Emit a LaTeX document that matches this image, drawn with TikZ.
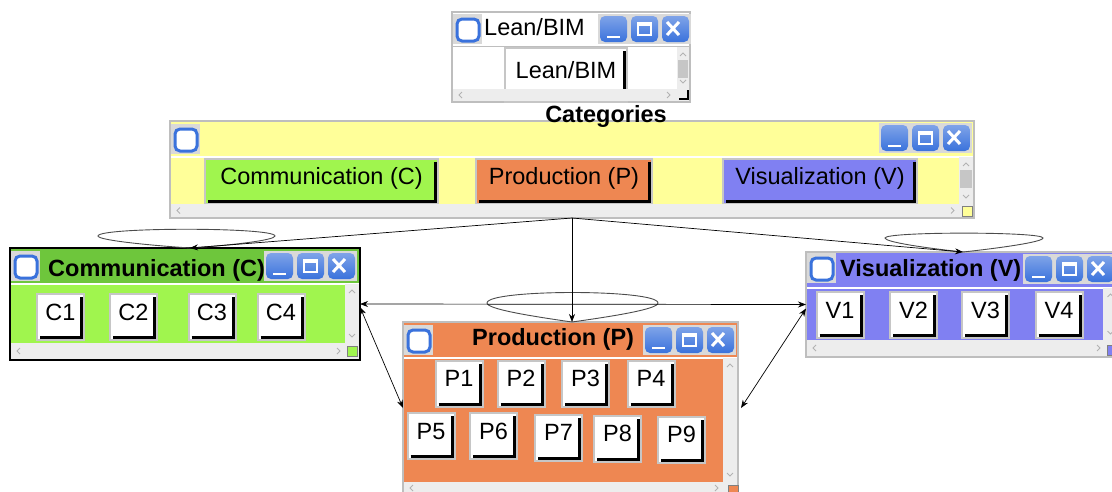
\documentclass[tikz,border=0pt]{standalone}
\usepackage{fontspec}
\setmainfont{Liberation Sans}
\usetikzlibrary{positioning,arrows.meta}

\definecolor{catyellow}{HTML}{FFFF99}
\definecolor{commgreen}{HTML}{A0F54E}
\definecolor{commbar}{HTML}{6EC63C}
\definecolor{prodorange}{HTML}{EE8752}
\definecolor{vizblue}{HTML}{8080F2}
\definecolor{ctrlblue}{HTML}{3A72DC}
\definecolor{framegray}{HTML}{BEBEBE}
\definecolor{sbgray}{HTML}{EDEDED}

\newcommand\lbl{\fontsize{23.5}{26}\selectfont}

\tikzset{
  frm/.style={rectangle, draw=framegray, line width=1.5pt, anchor=north west, inner sep=0pt, outer sep=0pt},
  item/.style={rectangle, draw=gray!45, line width=2pt, fill=white, minimum width=47pt, minimum height=46pt,
    inner sep=0pt, font=\lbl, text height=17pt, text depth=11pt,
    path picture={\draw[black, line width=3pt]
      ([xshift=3pt,yshift=2.5pt]path picture bounding box.south west) --
      ([xshift=-2.5pt,yshift=2.5pt]path picture bounding box.south east) --
      ([xshift=-2.5pt,yshift=-3pt]path picture bounding box.north east);}},
  catbtn/.style={item, fill=#1, minimum height=45pt},
  ttl/.style={font=\lbl\bfseries, inner sep=0pt, anchor=base west},
  con/.style={line width=0.7pt},
  loopline/.style={draw=gray!60!black, line width=0.9pt},
  winctrls/.pic={
    \foreach \k in {0,1,2}{
      \fill[gray!30] (\k*31,0) rectangle ++(31,30);
      \shade[top color=ctrlblue!65!white, bottom color=ctrlblue, rounded corners=5pt] (\k*31+2,2) rectangle ++(27,26);
    }
    \draw[white, line width=2pt] (9,23) -- (22,23);
    \draw[white, line width=2pt] (40,9) rectangle (53,21);
    \fill[white] (40,9) rectangle (53,12);
    \draw[white, line width=3pt] (69,8) -- (81,21) (69,21) -- (81,8);
  },
  winicon/.pic={
    \fill[gray!30] (0,0) rectangle (29,30);
    \draw[ctrlblue, fill=white, line width=3pt, rounded corners=5pt] (4,5) rectangle (26,27);
  }
}

\begin{document}
\begin{tikzpicture}[x=1pt, y=-1pt, >={Stealth[length=8pt,width=6pt]}]
\useasboundingbox (0,0) rectangle (1112,491);
\clip (0,0) rectangle (1112,491);

% Lean/BIM window
\node[frm, fill=white, minimum width=238pt, minimum height=90pt] (lbwin) at (452,12) {};
\pic at (453,14) {winicon};
\pic at (598,14) {winctrls};
\draw[framegray] (453,46) -- (689,46);
\node[item, minimum width=122pt, minimum height=54pt] (lbbtn) at (566,75) {Lean/BIM};
\node[ttl, font=\lbl] (lbttl) at (484,35) {Lean/BIM};

% Categories window
\node[frm, fill=catyellow, minimum width=804pt, minimum height=97pt] (catwin) at (170,121) {};
\pic at (171,124) {winicon};
\pic at (879,123) {winctrls};
\draw[white, line width=1.2pt] (171,157) -- (973,157);
\node[catbtn=commgreen, minimum width=233pt] (catc) at (321.5,181.5) {Communication (C)};
\node[catbtn=prodorange, minimum width=176pt] (catp) at (564,181.5) {Production (P)};
\node[catbtn=vizblue, minimum width=194pt] (catv) at (820,181.5) {Visualization (V)};
\node[ttl, anchor=base] (catttl) at (606,122) {Categories};

% Communication window
\node[frm, draw=black, line width=2pt, fill=commgreen, minimum width=350pt, minimum height=112pt] (commwin) at (10,248) {};
\fill[commbar] (11,249) rectangle (359,283);
\draw[white, line width=1.2pt] (11,284) -- (359,284);
\pic at (11,251) {winicon};
\pic at (264,251) {winctrls};
\foreach \n/\x in {1/60.5,2/133.5,3/212,4/281}
  \node[item] (c\n) at (\x,317) {C\n};
\node[ttl] (commttl) at (48,276) {Communication (C)};

% Visualization window
\node[frm, fill=vizblue, minimum width=314pt, minimum height=105pt] (vizwin) at (806,252) {};
\draw[white, line width=1.2pt] (807,288) -- (1119,288);
\pic at (807,253) {winicon};
\pic at (1023,254) {winctrls};
\foreach \n/\x in {1/840,2/913.5,3/985.5,4/1059}
  \node[item] (v\n) at (\x,315) {V\n};
\node[ttl] (vizttl) at (840,276) {Visualization (V)};

% Production window
\node[frm, fill=prodorange, minimum width=335pt, minimum height=172pt] (prodwin) at (403,322) {};
\draw[white, line width=1.2pt] (404,358) -- (737,358);
\pic at (404,325) {winicon};
\pic at (643,325) {winctrls};
\foreach \n/\x in {1/459,2/521,3/585.5,4/651}
  \node[item] (p\n) at (\x,383.5) {P\n};
\foreach \n/\x/\y in {5/431/436,6/493.5/436,7/558.5/437.5,8/617.5/438.5,9/681.5/439.5}
  \node[item] (p\n) at (\x,\y) {P\n};
\node[ttl] (prodttl) at (472,345) {Production (P)};

% scroll bars
\foreach \xa/\xb/\ya/\yb in {677/689/47/89,959/973/157/204,345/359/284/343,1103/1118/288/340,723/737/358/482}{
  \fill[sbgray] (\xa,\ya) rectangle (\xb,\yb);
  \draw[gray!60, line width=0.8pt]
    ({(\xa+\xb)/2-3},\ya+9) -- ({(\xa+\xb)/2},\ya+6) -- ({(\xa+\xb)/2+3},\ya+9)
    ({(\xa+\xb)/2-3},\yb-9) -- ({(\xa+\xb)/2},\yb-6) -- ({(\xa+\xb)/2+3},\yb-9);
}
\foreach \xa/\xb/\ya/\yb in {453/689/89/101,171/973/204/217,11/359/343/359,807/1119/340/356,404/737/482/494}{
  \fill[sbgray] (\xa,\ya) rectangle (\xb,\yb);
  \draw[gray!60, line width=0.8pt]
    (\xa+9,{(\ya+\yb)/2-3}) -- (\xa+6,{(\ya+\yb)/2}) -- (\xa+9,{(\ya+\yb)/2+3})
    (\xb-22,{(\ya+\yb)/2-3}) -- (\xb-19,{(\ya+\yb)/2}) -- (\xb-22,{(\ya+\yb)/2+3});
}
\fill[gray!45] (678,60) rectangle (688,78);
\fill[gray!45] (960,170) rectangle (972,188);
\draw[line width=1.2pt] (679,99) -- (688,99) -- (688,90);
\foreach \x/\y/\c in {962/206/catyellow,347/346/commgreen,1107/345/vizblue,728/485/prodorange}
  \filldraw[fill=\c, draw=gray] (\x,\y) rectangle ++(10,10);

% connectors
\coordinate (commtip) at ([xshift=5pt]commwin.north);
\coordinate (prodtip) at ([xshift=1.5pt]prodwin.north);
\coordinate (viztip) at (vizwin.north);
\draw[loopline] (commtip) .. controls (145,245) and (98,240) .. (98,236)
  .. controls (98,227) and (275,227) .. (275,236) .. controls (275,240) and (235,245) .. (commtip);
\draw[loopline] (prodtip) .. controls (530,316) and (487,309) .. (487,303)
  .. controls (487,289) and (658,289) .. (658,303) .. controls (658,309) and (615,316) .. (prodtip);
\draw[loopline] (viztip) .. controls (925,248) and (885,242) .. (885,238)
  .. controls (885,231.5) and (1043,231.5) .. (1043,238) .. controls (1043,242) and (1000,248) .. (viztip);
\draw[con, ->] (catwin.south) -- (commtip);
\draw[con, ->] (catwin.south) -- (prodtip);
\draw[con, ->] (catwin.south) -- (viztip);
\draw[con, <->] (commwin.east) -- (vizwin.west);
\draw[con, <->] ([yshift=-3pt]commwin.east) -- (prodwin.west);
\draw[con, <->] ([yshift=-4pt]vizwin.west) -- ([xshift=3pt]prodwin.east);
\end{tikzpicture}
\end{document}
